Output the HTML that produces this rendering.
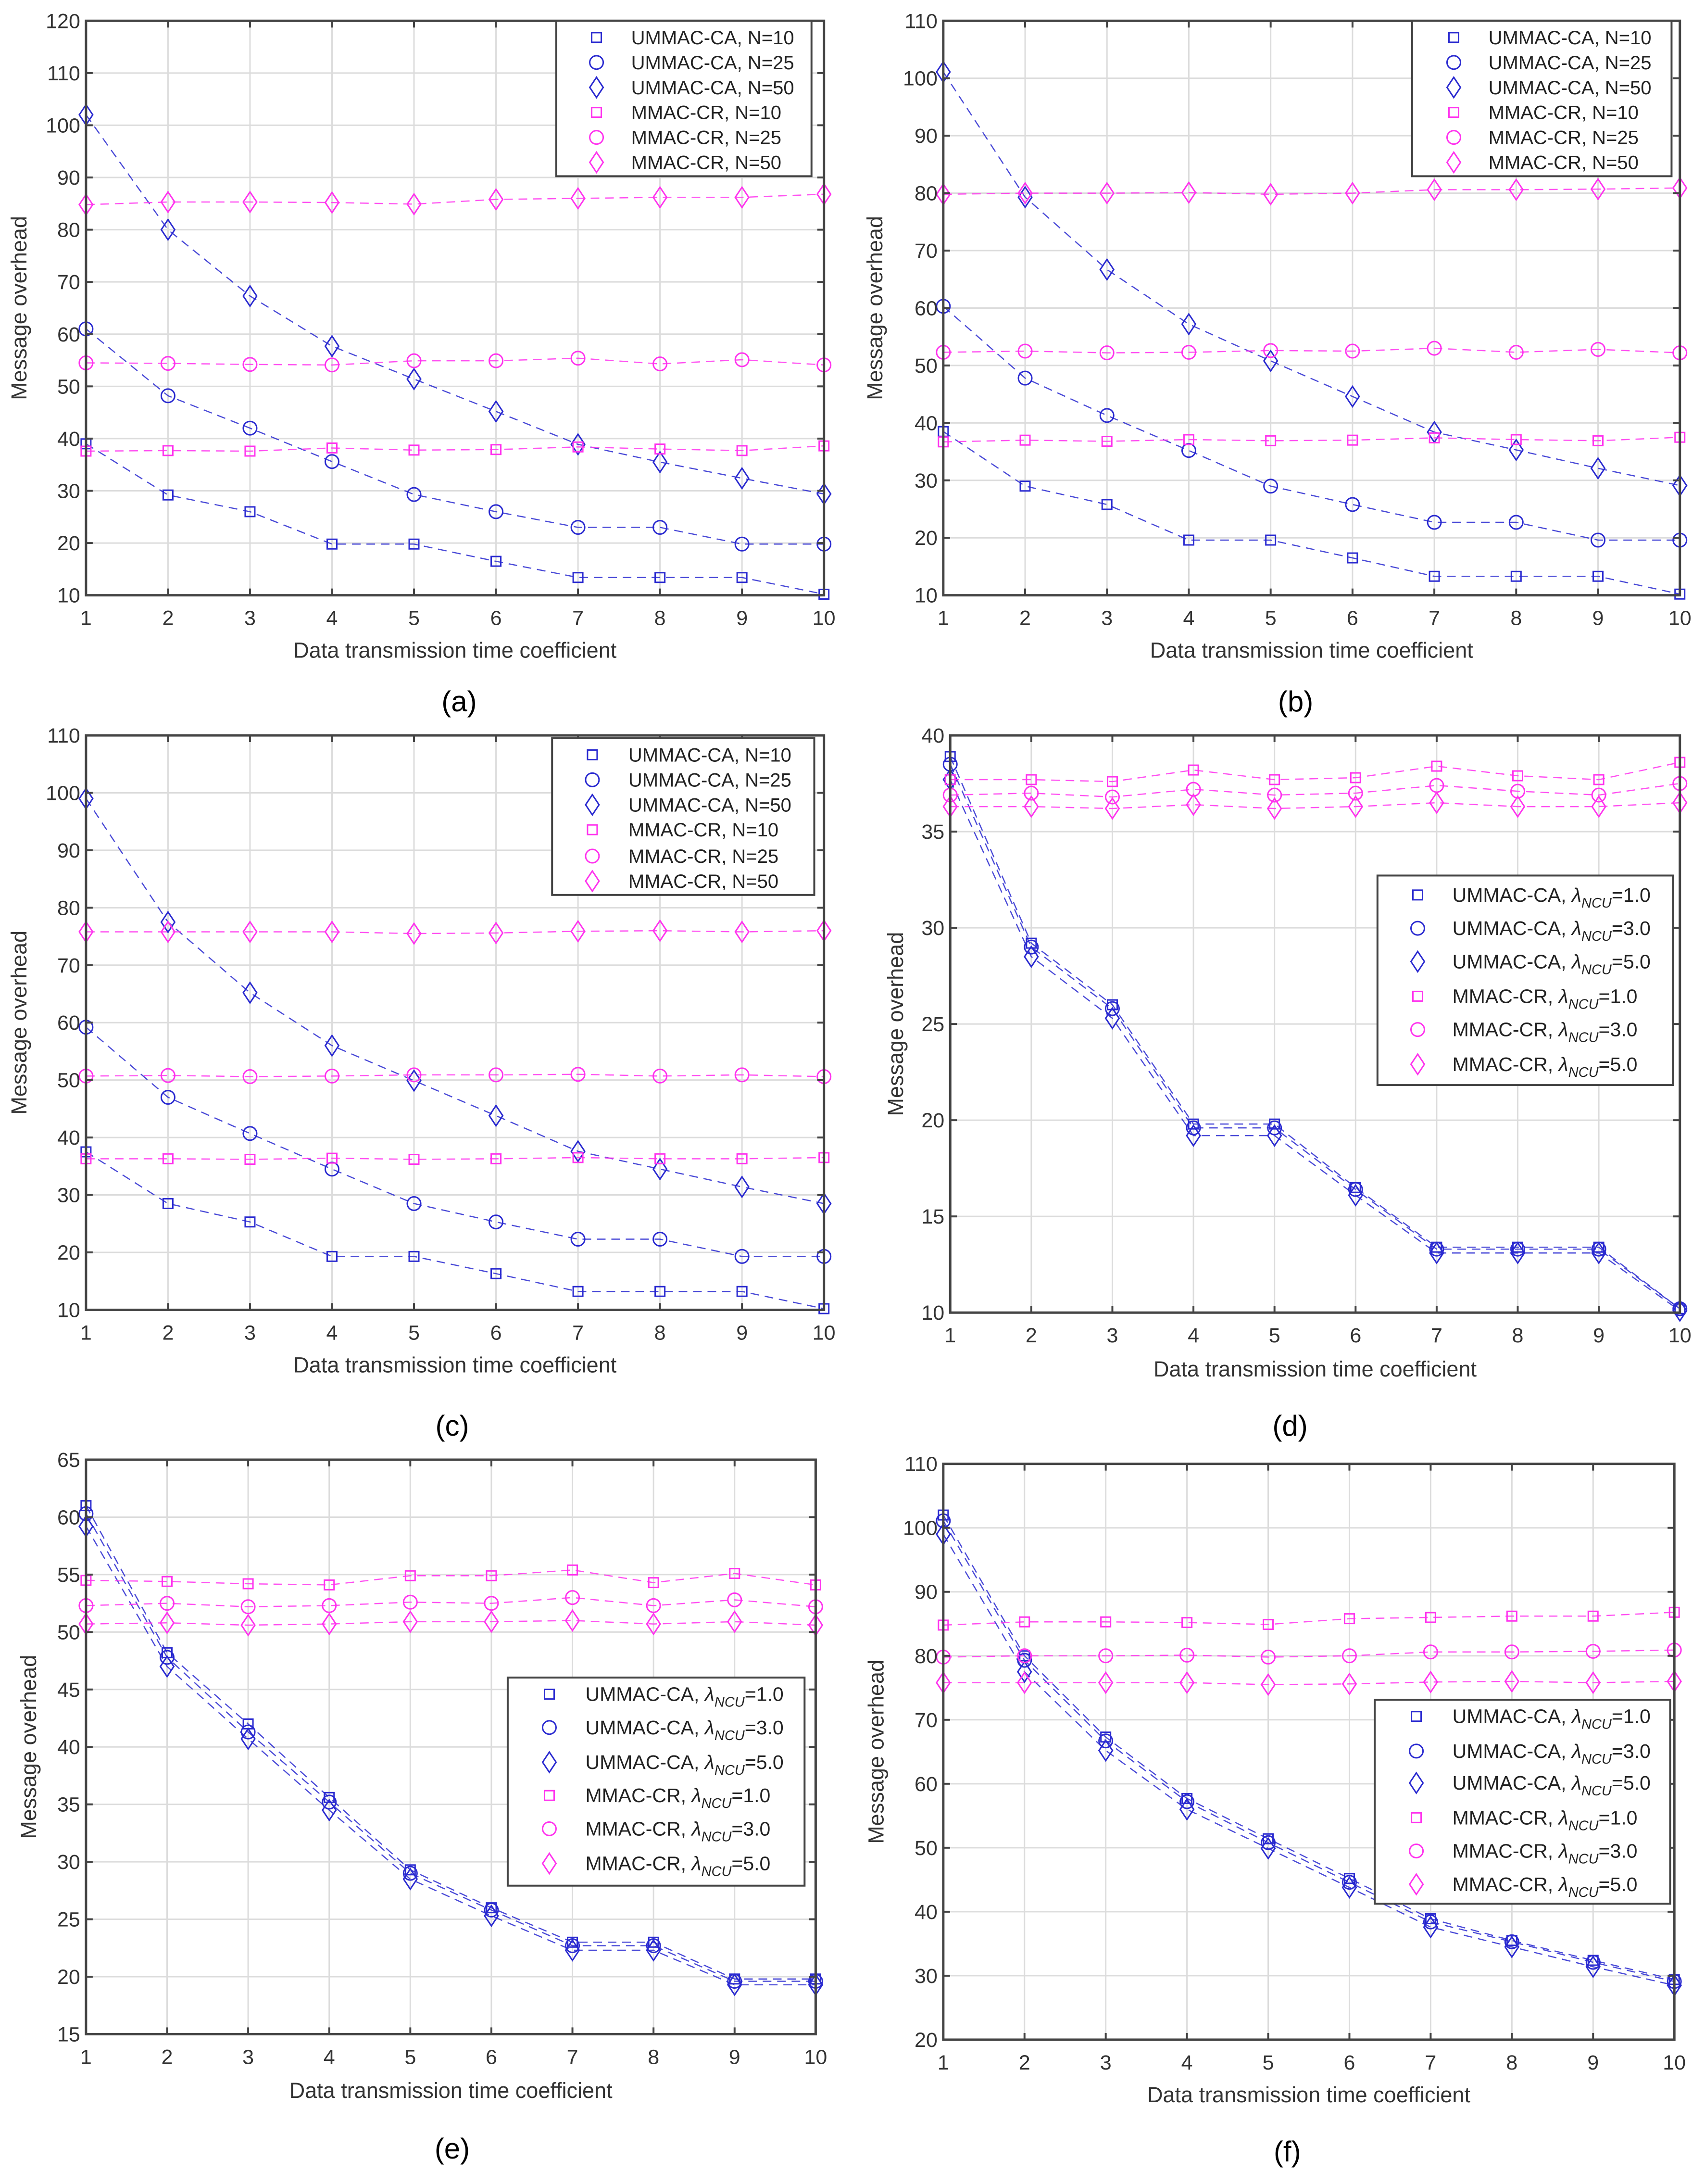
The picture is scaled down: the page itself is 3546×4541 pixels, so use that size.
<!DOCTYPE html>
<html><head><meta charset="utf-8"><style>
html,body{margin:0;padding:0;background:#fff;}
svg{display:block;font-family:"Liberation Sans",Arial,sans-serif;}
</style></head><body>
<svg id="fig" xmlns="http://www.w3.org/2000/svg" width="3546" height="4541" viewBox="0 0 3546 4541"></svg>
<script>
const xCats=[1,2,3,4,5,6,7,8,9,10];
// Panel a (lambda=1.0)
const aU10=[39,29.2,26,19.8,19.8,16.5,13.4,13.4,13.4,10.2];
const aU25=[61,48.2,42,35.6,29.3,26,23,23,19.8,19.8];
const aU50=[102,80,67.3,57.7,51.4,45.2,38.9,35.5,32.4,29.4];
const aM10=[37.6,37.7,37.6,38.2,37.8,37.9,38.4,38,37.7,38.6];
const aM25=[54.5,54.4,54.2,54.1,54.9,54.9,55.4,54.3,55.1,54.1];
const aM50=[84.8,85.3,85.3,85.2,84.9,85.8,86,86.2,86.2,86.8];
// Panel b (lambda=3.0)
const bU10=[38.5,29,25.8,19.6,19.6,16.5,13.3,13.3,13.3,10.2];
const bU25=[60.3,47.8,41.3,35.2,29,25.8,22.7,22.7,19.6,19.6];
const bU50=[101.1,79.3,66.7,57.2,50.8,44.6,38.4,35.3,32.1,29.1];
const bM10=[36.7,37,36.8,37.1,36.9,37,37.4,37.1,36.9,37.5];
const bM25=[52.3,52.5,52.2,52.3,52.6,52.5,53,52.3,52.8,52.2];
const bM50=[79.8,80,80,80.1,79.8,80,80.6,80.6,80.7,80.9];
// Panel c (lambda=5.0)
const cU10=[37.5,28.5,25.3,19.3,19.3,16.3,13.2,13.2,13.2,10.2];
const cU25=[59.2,47,40.7,34.5,28.5,25.3,22.3,22.3,19.3,19.3];
const cU50=[99,77.5,65.2,56,49.9,43.8,37.6,34.5,31.4,28.5];
const cM10=[36.3,36.3,36.2,36.4,36.2,36.3,36.5,36.3,36.3,36.5];
const cM25=[50.7,50.8,50.6,50.7,50.9,50.9,51,50.7,50.9,50.6];
const cM50=[75.8,75.8,75.8,75.8,75.5,75.6,75.9,76,75.8,76];
// Panel d (N=10)
const dU1=[38.9,29.2,26,19.8,19.8,16.5,13.4,13.4,13.4,10.2];
const dU3=[38.5,29,25.8,19.6,19.6,16.4,13.3,13.3,13.3,10.2];
const dU5=[37.7,28.5,25.3,19.2,19.2,16.1,13.1,13.1,13.1,10.1];
const dM1=[37.7,37.7,37.6,38.2,37.7,37.8,38.4,37.9,37.7,38.6];
const dM3=[36.9,37,36.8,37.2,36.9,37,37.4,37.1,36.9,37.5];
const dM5=[36.3,36.3,36.2,36.4,36.2,36.3,36.5,36.3,36.3,36.5];
// Panel e (N=25)
const eU1=[61,48.2,42,35.6,29.3,26,23,23,19.8,19.8];
const eU3=[60.3,47.8,41.3,35.2,29,25.8,22.7,22.7,19.6,19.6];
const eU5=[59.2,47,40.7,34.5,28.5,25.3,22.3,22.3,19.3,19.3];
const eM1=[54.5,54.4,54.2,54.1,54.9,54.9,55.4,54.3,55.1,54.1];
const eM3=[52.3,52.5,52.2,52.3,52.6,52.5,53,52.3,52.8,52.2];
const eM5=[50.7,50.8,50.6,50.7,50.9,50.9,51,50.7,50.9,50.6];
// Panel f (N=50)
const fU1=[102,80,67.3,57.7,51.4,45.2,38.9,35.5,32.4,29.4];
const fU3=[101.1,79.3,66.7,57.2,50.8,44.6,38.4,35.3,32.1,29.1];
const fU5=[99,77.5,65.2,56,49.9,43.8,37.6,34.5,31.4,28.5];
const fM1=[84.8,85.3,85.3,85.2,84.9,85.8,86,86.2,86.2,86.8];
const fM3=[79.8,80,80,80.1,79.8,80,80.6,80.6,80.7,80.9];
const fM5=[75.8,75.8,75.8,75.8,75.5,75.6,75.9,76,75.8,76];
const ticksA=[10,20,30,40,50,60,70,80,90,100,110,120];
const ticksB=[10,20,30,40,50,60,70,80,90,100,110];
const ticksD=[10,15,20,25,30,35,40];
const ticksE=[15,20,25,30,35,40,45,50,55,60,65];
const ticksF=[20,30,40,50,60,70,80,90,100,110];
const namesN=["UMMAC-CA, N=10","UMMAC-CA, N=25","UMMAC-CA, N=50","MMAC-CR, N=10","MMAC-CR, N=25","MMAC-CR, N=50"];
const lamVals=["1.0","3.0","5.0","1.0","3.0","5.0"];

const S=2.885, NS="http://www.w3.org/2000/svg";
const svg=document.getElementById('fig');
const BLUE="#2a2ad0", MAG="#ff33ee";
function el(tag,attrs,parent){const e=document.createElementNS(NS,tag);for(const k in attrs)e.setAttribute(k,attrs[k]);(parent||svg).appendChild(e);return e;}

function marker(g,shape,cx,cy,color){
  let m;
  if(shape==='s'){m=el('rect',{x:cx-10,y:cy-10,width:20,height:20,fill:'none',stroke:color,'stroke-width':3},g);}
  else if(shape==='o'){m=el('circle',{cx:cx,cy:cy,r:14,fill:'none',stroke:color,'stroke-width':3},g);}
  else {m=el('polygon',{points:`${cx},${cy-21} ${cx+14},${cy} ${cx},${cy+21} ${cx-14},${cy}`,fill:'none',stroke:color,'stroke-width':3},g);}
  return m;
}

function panel(p){
  const L=p.x0*S,R=p.x1*S,T=p.y0*S,B=p.y1*S;
  const g=el('g',{});
  
  
  const ymin=p.ticks[0],ymax=p.ticks[p.ticks.length-1];
  const xs=v=>L+(v-1)/9*(R-L);
  const ys=v=>B-(v-ymin)/(ymax-ymin)*(B-T);
  xCats.forEach(v=>{const l=el('line',{x1:xs(v),x2:xs(v),y1:T,y2:B,stroke:'#dcdcdc','stroke-width':3},g);});
  p.ticks.forEach(v=>{const l=el('line',{x1:L,x2:R,y1:ys(v),y2:ys(v),stroke:'#dcdcdc','stroke-width':3},g);});
  p.series.forEach((s,i)=>{
    const color=i<3?BLUE:MAG; const shape=['s','o','d'][i%3];
    const pts=s.map((v,j)=>xs(xCats[j])+','+ys(v)).join(' ');
    const pl=el('polyline',{points:pts,fill:'none',stroke:color,'stroke-width':2.5,'stroke-dasharray':'18,12','stroke-opacity':0.85},g);
    
    
    s.forEach((v,j)=>{const m=marker(g,shape,xs(xCats[j]),ys(v),color);
      
      });
  });
  const ax=el('rect',{x:L,y:T,width:R-L,height:B-T,fill:'none',stroke:'#444','stroke-width':5},g);
  
  xCats.forEach(v=>{
    el('line',{x1:xs(v),x2:xs(v),y1:B,y2:B-14,stroke:'#444','stroke-width':4},g);
    el('line',{x1:xs(v),x2:xs(v),y1:T,y2:T+14,stroke:'#444','stroke-width':4},g);
    const t=el('text',{x:xs(v),y:B+62,'font-size':43,fill:'#333','text-anchor':'middle'},g);t.textContent=v;
    
  });
  p.ticks.forEach(v=>{
    el('line',{x1:L,x2:L+14,y1:ys(v),y2:ys(v),stroke:'#444','stroke-width':4},g);
    el('line',{x1:R,x2:R-14,y1:ys(v),y2:ys(v),stroke:'#444','stroke-width':4},g);
    const t=el('text',{x:L-12,y:ys(v)+15,'font-size':43,fill:'#333','text-anchor':'end'},g);t.textContent=v;
    
  });
  const xt=el('text',{x:(L+R)/2,y:B+(p.tOff||38)*S,'font-size':45,fill:'#333','text-anchor':'middle'},g);
  xt.textContent='Data transmission time coefficient';
  
  const yx=p.ylx*S, yy=(T+B)/2;
  const yt=el('text',{x:yx,y:yy,'font-size':45,fill:'#333','text-anchor':'middle',transform:`rotate(-90 ${yx} ${yy})`},g);
  yt.textContent='Message overhead';
  
  const cap=el('text',{x:p.cx*S,y:p.cy*S+22,'font-size':60,fill:'#000','text-anchor':'middle'},g);
  cap.textContent='('+p.id+')';
  
  const lg=p.leg;
  const lb=el('g',{},g);
  
  el('rect',{x:lg.x0*S,y:lg.y0*S,width:(lg.x1-lg.x0)*S,height:(lg.y1-lg.y0)*S,fill:'#fff',stroke:'#444','stroke-width':4},lb);
  lg.rows.forEach((ry,i)=>{
    const color=i<3?BLUE:MAG; const shape=['s','o','d'][i%3];
    const m=marker(lb,shape,lg.mx*S,ry*S,color);
    
    const t=el('text',{x:lg.tx*S,y:ry*S+14,'font-size':p.lam?41:40,fill:'#222'},lb);
    
    if(p.lam){
      t.appendChild(document.createTextNode((i<3?'UMMAC-CA, ':'MMAC-CR, ')));
      const l=el('tspan',{'font-style':'italic'},t);l.textContent='λ';
      const sub=el('tspan',{'font-size':29,'font-style':'italic',dy:12},t);sub.textContent='NCU';
      const eq=el('tspan',{dy:-12},t);eq.textContent='='+lamVals[i];
    } else t.textContent=namesN[i];
  });
}

panel({id:'a',x0:62,x1:594,y0:15,y1:429,ticks:ticksA,ylx:19,cx:331,cy:505,tOff:45,
  series:[aU10,aU25,aU50,aM10,aM25,aM50],
  leg:{x0:401,x1:585,y0:15,y1:127,mx:430,tx:455,rows:[27,45,63,81,99,117]}});
panel({id:'b',x0:680,x1:1211,y0:15,y1:429,ticks:ticksB,ylx:636,cx:934,cy:505,tOff:45,
  series:[bU10,bU25,bU50,bM10,bM25,bM50],
  leg:{x0:1018,x1:1205,y0:15,y1:127,mx:1048,tx:1073,rows:[27,45,63,81,99,117]}});
panel({id:'c',x0:62,x1:594,y0:530,y1:944,ticks:ticksB,ylx:19,cx:326,cy:1027,tOff:45,
  series:[cU10,cU25,cU50,cM10,cM25,cM50],
  leg:{x0:398,x1:587,y0:532,y1:645,mx:427,tx:453,rows:[544,562,580,598,617,635]}});
panel({id:'d',x0:685,x1:1211,y0:530,y1:946,ticks:ticksD,ylx:651,cx:930,cy:1027,tOff:46,lam:true,
  series:[dU1,dU3,dU5,dM1,dM3,dM5],
  leg:{x0:993,x1:1206,y0:631,y1:782,mx:1022,tx:1047,rows:[645,669,693,718,742,767]}});
panel({id:'e',x0:62,x1:588,y0:1052,y1:1466,ticks:ticksE,ylx:26,cx:326,cy:1548,tOff:46,lam:true,
  series:[eU1,eU3,eU5,eM1,eM3,eM5],
  leg:{x0:366,x1:580,y0:1209,y1:1359,mx:396,tx:422,rows:[1221,1245,1270,1294,1318,1343]}});
panel({id:'f',x0:680,x1:1207,y0:1055,y1:1470,ticks:ticksF,ylx:637,cx:928,cy:1550,tOff:45,lam:true,
  series:[fU1,fU3,fU5,fM1,fM3,fM5],
  leg:{x0:991,x1:1204,y0:1225,y1:1372,mx:1021,tx:1047,rows:[1237,1262,1285,1310,1334,1358]}});
</script>
</body></html>
